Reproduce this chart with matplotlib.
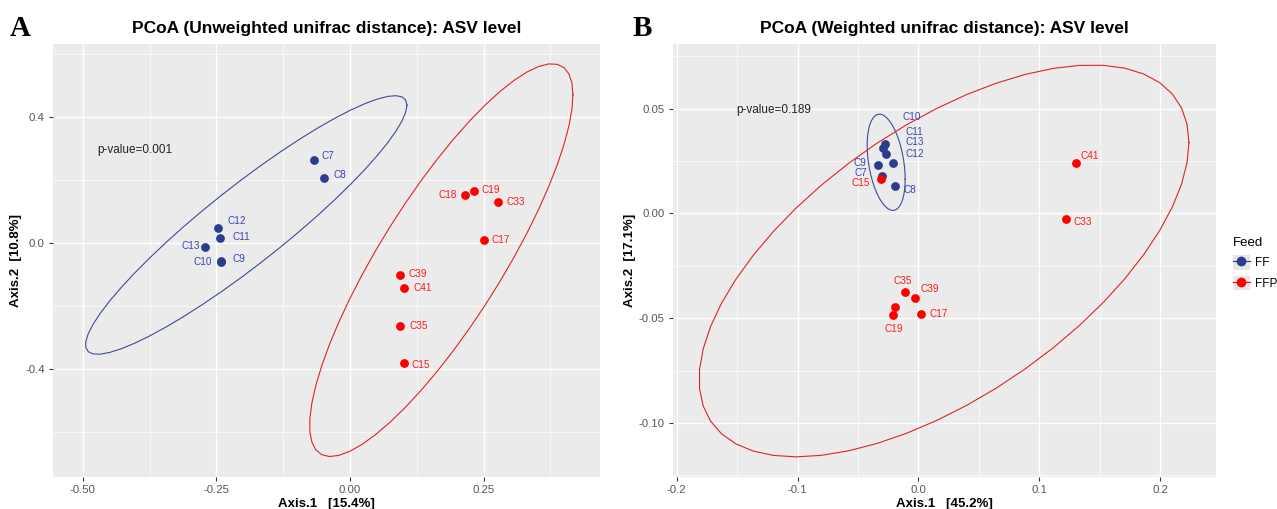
import numpy as np
import matplotlib
matplotlib.use("Agg")
import matplotlib.pyplot as plt
from matplotlib.lines import Line2D
from matplotlib.patches import Patch
from matplotlib.legend_handler import HandlerTuple

plt.rcParams['font.family'] = ['Liberation Sans', 'DejaVu Sans']
plt.rcParams['axes.unicode_minus'] = False

# ---- data ----
groups = ["FF", "FFP"]

# panel A: unweighted unifrac
a_names = ["C7", "C8", "C12", "C11", "C13", "C10", "C9",
           "C18", "C19", "C33", "C17", "C39", "C41", "C35", "C15"]
a_feed = ["FF"] * 7 + ["FFP"] * 8
a_ax1 = [-0.067, -0.049, -0.247, -0.243, -0.271, -0.242, -0.241,
         0.216, 0.233, 0.277, 0.250, 0.093, 0.102, 0.094, 0.102]
a_ax2 = [0.263, 0.206, 0.048, 0.016, -0.014, -0.060, -0.058,
         0.151, 0.164, 0.129, 0.009, -0.102, -0.143, -0.262, -0.381]
a_pval = "p-value=0.001"

# panel B: weighted unifrac
b_names = ["C10", "C11", "C13", "C12", "C9", "C7", "C8",
           "C15", "C41", "C33", "C35", "C39", "C18", "C19", "C17"]
b_feed = ["FF"] * 7 + ["FFP"] * 8
b_ax1 = [-0.0273, -0.0292, -0.0270, -0.0209, -0.0333, -0.0298, -0.0196,
         -0.0312, 0.1304, 0.1222, -0.0108, -0.0033, -0.0196, -0.0209, 0.0019]
b_ax2 = [0.0333, 0.0310, 0.0281, 0.0241, 0.0230, 0.0178, 0.0132,
         0.0165, 0.0240, -0.0027, -0.0374, -0.0403, -0.0449, -0.0487, -0.0481]
b_show = [True] * 12 + [False, True, True]
b_pval = "p-value=0.189"

# label offsets in points (ggrepel placement imitation)
a_offs = {"C7": (5, 3, 'left'), "C8": (7, 2, 'left'), "C12": (7, 5, 'left'),
          "C11": (9, 1, 'left'), "C13": (-4, 1, 'right'), "C10": (-6, 0, 'right'),
          "C9": (8, 1.5, 'left'), "C18": (-6, 0, 'right'), "C19": (5, 1, 'left'),
          "C33": (6.5, 0, 'left'), "C17": (6, 0, 'left'), "C39": (6, 0.5, 'left'),
          "C41": (6.5, 0, 'left'), "C35": (6.5, 0, 'left'), "C15": (5, -1.5, 'left')}
b_offs = {"C10": (12, 19, 'left'), "C11": (16, 12, 'left'), "C13": (14, 9, 'left'),
          "C12": (9, 6.5, 'left'), "C9": (-8.5, 1.5, 'right'), "C7": (-11, 2.5, 'right'),
          "C15": (-8, -3, 'right'), "C8": (6, -3, 'left'), "C35": (-2, 7.5, 'center'),
          "C39": (4, 6.5, 'left'), "C19": (0.5, -9.5, 'center'), "C17": (6, 0, 'left'),
          "C41": (3, 5, 'left'), "C33": (5, -2, 'left'), "C18": (0, 0, 'left')}

colors = {"FF": "#2B3C8E", "FFP": "#FF0000"}
text_colors = {"FF": "#3A44B4", "FFP": "#FF1A1A"}
ell_colors = {"FF": "#3D4C95", "FFP": "#E02424"}


def ellipse(xs, ys, level=0.95, segments=51):
    # stat_ellipse(type = "norm")
    pts = np.column_stack([xs, ys])
    center = pts.mean(axis=0)
    shape = np.cov(pts.T)
    dfd = len(xs) - 1
    fq = dfd / 2 * ((1 - level) ** (-2 / dfd) - 1)  # qf(level, 2, dfd)
    radius = np.sqrt(2 * fq)
    ang = np.linspace(0, 2 * np.pi, segments + 1)
    circ = np.column_stack([np.cos(ang), np.sin(ang)])
    e = center + radius * circ @ np.linalg.cholesky(shape).T
    return e[:, 0], e[:, 1]


def draw_panel(ax, names, feed, ax1, ax2, offs, pval, ptxt, show=None):
    ax.set_facecolor("#EBEBEB")
    ax1 = np.array(ax1)
    ax2 = np.array(ax2)
    feed = np.array(feed)
    for g in groups:
        m = feed == g
        ex, ey = ellipse(ax1[m], ax2[m])
        ax.plot(ex, ey, color=ell_colors[g], lw=0.8, zorder=2)
    for g in groups:
        m = feed == g
        ax.scatter(ax1[m], ax2[m], s=40, color=colors[g], zorder=3, lw=0)
    for i, nm in enumerate(names):
        if show is not None and not show[i]:
            continue
        dx, dy, ha = offs[nm]
        ax.annotate(nm, (ax1[i], ax2[i]), xytext=(dx, dy), textcoords="offset points",
                    ha=ha, va="center", fontsize=7.2, color=text_colors[feed[i]], zorder=4)
    ax.text(ptxt[0], ptxt[1], pval, fontsize=8.5, color="#222222", va="center", ha="left")
    ax.grid(which="major", color="white", lw=1.0, zorder=0)
    ax.grid(which="minor", color="white", lw=0.5, zorder=0)
    ax.set_axisbelow(True)
    for s in ax.spines.values():
        s.set_visible(False)
    ax.tick_params(which="major", length=3, color="#333333", labelsize=8.2,
                   labelcolor="#555555", pad=3)
    ax.tick_params(which="minor", length=0)


fig = plt.figure(figsize=(12.77, 5.09), dpi=100)
W, H = 1277, 509

axA = fig.add_axes([53 / W, (H - 477) / H, 547 / W, 433 / H])
draw_panel(axA, a_names, a_feed, a_ax1, a_ax2, a_offs, a_pval, (-0.474, 0.295))
axA.set_xlim(-0.556, 0.468)
axA.set_ylim(-0.743, 0.632)
axA.set_xticks([-0.5, -0.25, 0, 0.25])
axA.set_xticklabels(["-0.50", "-0.25", "0.00", "0.25"])
axA.set_xticks([-0.375, -0.125, 0.125, 0.375], minor=True)
axA.set_yticks([-0.4, 0, 0.4])
axA.set_yticklabels(["-0.4", "0.0", "0.4"])
axA.set_yticks([-0.6, -0.2, 0.2, 0.6], minor=True)
axA.set_xlabel("Axis.1   [15.4%]", fontsize=9.5, fontweight="bold", labelpad=2)
axA.set_ylabel("Axis.2  [10.8%]", fontsize=9.5, fontweight="bold", labelpad=2)
axA.set_title("PCoA (Unweighted unifrac distance): ASV level", fontsize=12.5,
              fontweight="bold", pad=8)

axB = fig.add_axes([673 / W, (H - 477) / H, 543 / W, 433 / H])
draw_panel(axB, b_names, b_feed, b_ax1, b_ax2, b_offs, b_pval, (-0.151, 0.0494), b_show)
axB.set_xlim(-0.203, 0.246)
axB.set_ylim(-0.1258, 0.0808)
axB.set_xticks([-0.2, -0.1, 0, 0.1, 0.2])
axB.set_xticklabels(["-0.2", "-0.1", "0.0", "0.1", "0.2"])
axB.set_xticks([-0.15, -0.05, 0.05, 0.15], minor=True)
axB.set_yticks([-0.1, -0.05, 0, 0.05])
axB.set_yticklabels(["-0.10", "-0.05", "0.00", "0.05"])
axB.set_yticks([-0.125, -0.075, -0.025, 0.025, 0.075], minor=True)
axB.set_xlabel("Axis.1   [45.2%]", fontsize=9.5, fontweight="bold", labelpad=2)
axB.set_ylabel("Axis.2  [17.1%]", fontsize=9.5, fontweight="bold", labelpad=2)
axB.set_title("PCoA (Weighted unifrac distance): ASV level", fontsize=12.5,
              fontweight="bold", pad=8)

fig.text(10 / W, 1 - 29 / H, "A", fontsize=21, fontweight="bold",
         family="Liberation Serif", va="center", ha="left")
fig.text(633 / W, 1 - 29 / H, "B", fontsize=21, fontweight="bold",
         family="Liberation Serif", va="center", ha="left")

handles = []
for g in groups:
    handles.append((Patch(facecolor="#E6E6E6", edgecolor="none"),
                    Line2D([], [], color=colors[g], lw=0.8, marker="o", markersize=6)))
leg = fig.legend(handles, groups, title="Feed", loc="upper left",
                 bbox_to_anchor=(1222 / W, 1 - 226 / H), frameon=False,
                 fontsize=8.5, title_fontsize=9.5, handlelength=1.5, handleheight=1.5,
                 handletextpad=0.4, labelspacing=0.55,
                 handler_map={tuple: HandlerTuple(ndivide=1)})
leg._legend_box.align = "left"

fig.savefig("out.png", dpi=100)
